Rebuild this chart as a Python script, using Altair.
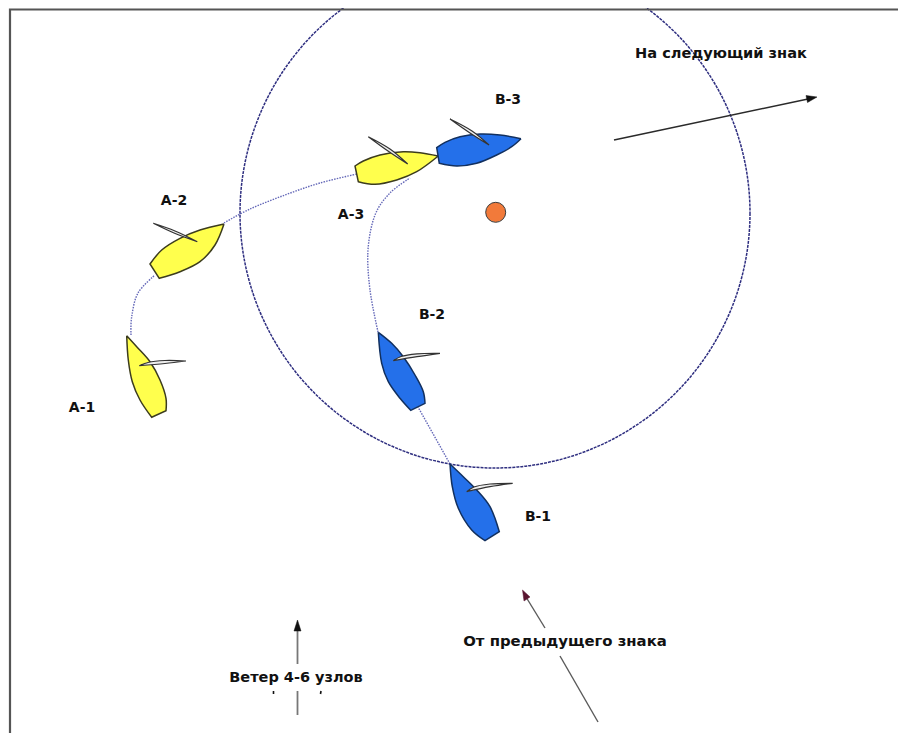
import altair as alt
import pandas as pd

frame = [(10, 733), (10, 9.5), (898, 9.5)]

# Hull outlines: a repeated vertex is a sharp corner of the hull.
a1 = [(126.7,335.7),(126.7,335.7),(136.7,346.7),(150,361.7),(160,380),(166,398.3),(166,410.7),(166,410.7),(151.7,417.3),(151.7,417.3),(140,400),(132.3,381.7),(128.3,360),(126.7,335.7),(126.7,335.7)]
a2 = [(224,224),(224,224),(200,230),(180,238.3),(161.7,250),(150,264),(150,264),(159.3,278.3),(159.3,278.3),(180,271.7),(200,261.7),(215,245),(224,224),(224,224)]
a3 = [(438.3,156),(438.3,156),(420,152.7),(403.3,151.7),(380,155),(363.3,161),(355,166),(355,166),(358.3,181.7),(358.3,181.7),(375,184.3),(396.7,180),(416.7,171.7),(438.3,156),(438.3,156)]
b1 = [(450,464),(450,464),(463.3,476.7),(476.7,490),(490,506.7),(499.3,531.7),(499.3,531.7),(485,540.7),(485,540.7),(471.7,530),(458.3,508.3),(452.3,486.7),(450,464),(450,464)]
b2 = [(378.3,332.3),(378.3,332.3),(391.7,343.3),(403.3,356.7),(415,375),(423.3,391.7),(425,403.3),(425,403.3),(410.7,410.3),(410.7,410.3),(400,398.3),(388.3,381.7),(381.7,363.3),(378.3,332.3),(378.3,332.3)]
b3 = [(521,138.7),(521,138.7),(500,135),(480,134),(460,136.7),(445,142.3),(436.7,147.7),(436.7,147.7),(439.3,163.3),(439.3,163.3),(456.7,166),(476.7,163.3),(496.7,155),(511.7,146.7),(521,138.7),(521,138.7)]

sail_a1 = [(186,361),(186,361),(165,360.5),(148,362.5),(139.3,365.7),(139.3,365.7),(165,363.5),(186,361),(186,361)]
sail_a2 = [(153.3,223.3),(153.3,223.3),(175,231),(197.3,241.7),(197.3,241.7),(174,233),(153.3,223.3),(153.3,223.3)]
sail_a3 = [(368.3,136.7),(368.3,136.7),(390,149),(407.7,164),(407.7,164),(388,151),(368.3,136.7),(368.3,136.7)]
sail_b1 = [(512.7,483.3),(512.7,483.3),(490,484),(474,487),(466.7,491.7),(466.7,491.7),(490,486.7),(512.7,483.3),(512.7,483.3)]
sail_b2 = [(440,353.3),(440,353.3),(417,353.8),(401,356.5),(393.3,360.7),(393.3,360.7),(417,356.7),(440,353.3),(440,353.3)]
sail_b3 = [(450,119),(450,119),(472,131),(489,145),(489,145),(470,133),(450,119),(450,119)]

track_a1 = [(131,335),(131.7,316.7),(138,293),(155,275)]
track_a2 = [(224,223),(250,209),(285,195),(320,183),(357,174)]
track_b1 = [(450,464),(418,407)]
track_b2 = [(378,332),(370,290),(368,250),(375,215),(390,193),(410,178)]

next_line = [(614,140),(808,99)]
next_head = [(817,97),(806,95.5),(807.5,102.5),(817,97)]
wind_low = [(297.5,715),(297.5,691)]
wind_up = [(297.5,664),(297.5,628)]
wind_head = [(297.5,620),(294,631),(301,631),(297.5,620)]
prev_low = [(598,722),(560,656)]
prev_up = [(545,628),(526,597)]
prev_head = [(522.5,590),(524,601),(530,597),(522.5,590)]
specks = [[(273.5,691),(273.5,694)], [(321,691),(320.5,694)]]

buoy = (495.7, 212.3)
zone = (495, 213)

label_text = ["На следующий знак", "От предыдущего знака", "Ветер 4-6 узлов", "A-1", "A-2", "A-3", "B-1", "B-2", "B-3"]
label_x = [721, 565, 296, 82, 174, 351, 538, 432, 508]
label_y = [54, 642, 678, 408, 201, 215, 517, 315, 100]
label_size = [14.6, 14.9, 14.5, 14, 14, 14, 14, 14, 14]

YELLOW, BLUE = "#ffff4d", "#2470ea"
X = alt.X("x:Q", axis=None, scale=alt.Scale(domain=[8, 898], nice=False, zero=False))
Y = alt.Y("y:Q", axis=None, scale=alt.Scale(domain=[733, 8], nice=False, zero=False))


def path(points, **mark):
    df = pd.DataFrame(points, columns=["x", "y"]).reset_index()
    return alt.Chart(df).mark_line(**mark).encode(x=X, y=Y, order="index:Q")


def poly(points, fill, stroke, width=1.5):
    return path(points, fill=fill, stroke=stroke, strokeWidth=width, strokeJoin="miter", interpolate="catmull-rom")


def straight(points, fill, stroke, width=0.5):
    return path(points, fill=fill, stroke=stroke, strokeWidth=width, strokeJoin="miter")


layers = []
for t in (track_a1, track_a2, track_b1, track_b2):
    layers.append(path(t, color="#6468b8", strokeWidth=1.4, strokeDash=[1.5, 1.2], interpolate="cardinal"))

zone_df = pd.DataFrame({"x": [zone[0]], "y": [zone[1]]})
layers.append(alt.Chart(zone_df).mark_point(shape="circle", size=260100, filled=False, stroke="#2f2f80",
                                            strokeWidth=1.5, strokeDash=[3, 1], opacity=1, clip=True)
              .encode(x=X, y=Y))

buoy_df = pd.DataFrame({"x": [buoy[0]], "y": [buoy[1]]})
layers.append(alt.Chart(buoy_df).mark_point(shape="circle", size=400, filled=True, fill="#f27a3a", stroke="#3a3a3a",
                                            strokeWidth=1, opacity=1).encode(x=X, y=Y))

for b in (a1, a2, a3):
    layers.append(poly(b, YELLOW, "#3c3c1e"))
for b in (b1, b2, b3):
    layers.append(poly(b, BLUE, "#12305f"))
for s in (sail_a1, sail_a2, sail_a3, sail_b1, sail_b2, sail_b3):
    layers.append(poly(s, "#eeeeee", "#333333", 1.2))

layers.append(path(next_line, color="#2a2a2a", strokeWidth=1.6))
layers.append(straight(next_head, "#111111", "#111111"))
layers.append(path(wind_low, color="#777777", strokeWidth=1.8))
layers.append(path(wind_up, color="#777777", strokeWidth=1.8))
layers.append(straight(wind_head, "#111111", "#111111"))
layers.append(path(prev_low, color="#5a5a5a", strokeWidth=1.4))
layers.append(path(prev_up, color="#5a5a5a", strokeWidth=1.4))
layers.append(straight(prev_head, "#5a1530", "#5a1530"))
for s in specks:
    layers.append(path(s, color="#111111", strokeWidth=1.6))
layers.append(path(frame, color="#555555", strokeWidth=2.2, strokeJoin="miter"))

labels = pd.DataFrame({"x": label_x, "y": label_y, "t": label_text, "s": label_size})
layers.append(alt.Chart(labels).mark_text(font="DejaVu Sans", fontWeight="bold", color="#111111", align="center", baseline="middle")
              .encode(x=X, y=Y, text="t:N", size=alt.Size("s:Q", scale=None, legend=None)))

chart = (alt.layer(*layers)
         .properties(width=890, height=725, padding=0, autosize=alt.AutoSizeParams(type="none"), background="white")
         .configure_view(stroke=None))

chart.save("out.html", embed_options={"renderer": "svg", "actions": False})
